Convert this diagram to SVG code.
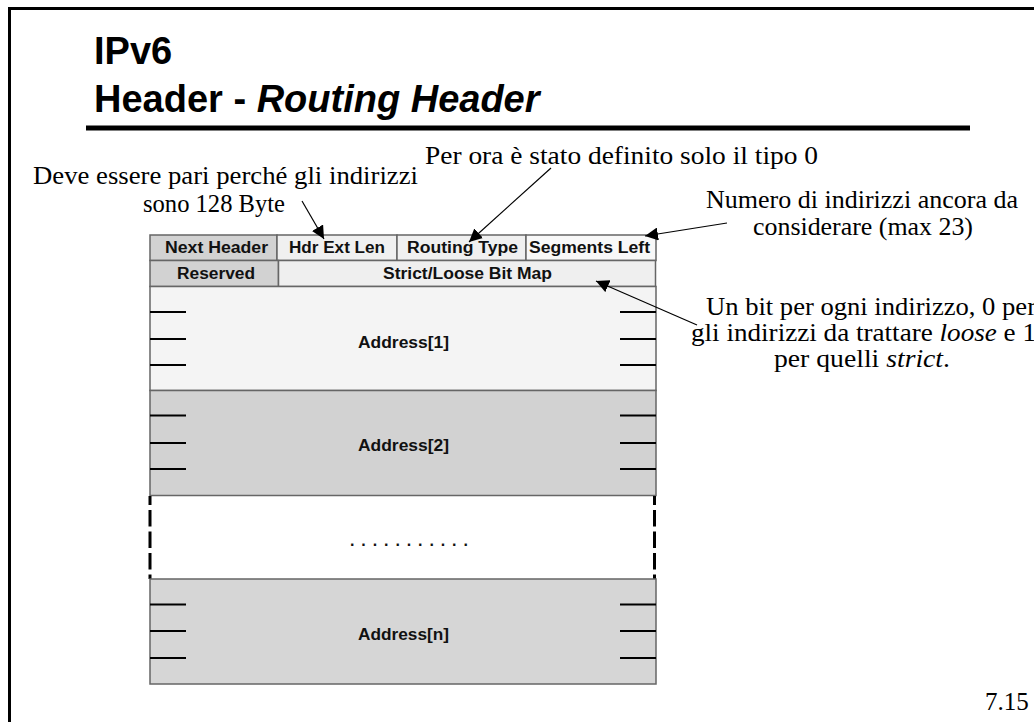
<svg xmlns="http://www.w3.org/2000/svg" width="1034" height="722" viewBox="0 0 1034 722">
<style>
.cell{stroke:#666;stroke-width:1.5}
.lbl{font-family:"Liberation Sans",Arial,sans-serif;font-weight:bold;font-size:16px;fill:#111}
.note{font-family:"Liberation Serif","Times New Roman",serif;font-size:25px;fill:#000}
.tick{stroke:#000;stroke-width:2}
.arr{stroke:#000;stroke-width:1.2;fill:none}
.title{font-family:"Liberation Sans",Arial,sans-serif;font-weight:bold;font-size:38px;fill:#000}
</style>
<defs>
<marker id="ah" viewBox="0 0 10 10" refX="10" refY="5" markerWidth="13" markerHeight="13" markerUnits="userSpaceOnUse" orient="auto">
<path d="M0,0 L10,5 L0,10 z" fill="#000"/>
</marker>
</defs>
<rect width="1034" height="722" fill="#fff"/>
<g id="frame">
<path d="M9.5,722 V8.5 H1034" fill="none" stroke="#000" stroke-width="3"/>
<rect x="86" y="125.5" width="884" height="5" fill="#000"/>
</g>
<g id="title">
<text class="title" x="94" y="64">IPv6</text>
<text class="title" x="94" y="112">Header - <tspan font-style="italic">Routing Header</tspan></text>
</g>
<g id="row1">
<rect class="cell" x="150" y="235" width="127" height="25.5" fill="#d2d2d2"/>
<rect class="cell" x="277" y="235" width="120" height="25.5" fill="#f0f0f0"/>
<rect class="cell" x="397" y="235" width="129" height="25.5" fill="#f0f0f0"/>
<rect class="cell" x="526" y="235" width="130" height="25.5" fill="#f8f8f8"/>
<text class="lbl" x="165" y="253" textLength="103" lengthAdjust="spacingAndGlyphs">Next Header</text>
<text class="lbl" x="289" y="253" textLength="96" lengthAdjust="spacingAndGlyphs">Hdr Ext Len</text>
<text class="lbl" x="407" y="253" textLength="111" lengthAdjust="spacingAndGlyphs">Routing Type</text>
<text class="lbl" x="529" y="253" textLength="121" lengthAdjust="spacingAndGlyphs">Segments Left</text>
</g>
<g id="row2">
<rect class="cell" x="150" y="260.5" width="128.5" height="26" fill="#d2d2d2"/>
<rect class="cell" x="278.5" y="260.5" width="377" height="26" fill="#efefef"/>
<text class="lbl" x="177" y="279" textLength="78" lengthAdjust="spacingAndGlyphs">Reserved</text>
<text class="lbl" x="383" y="279" textLength="169" lengthAdjust="spacingAndGlyphs">Strict/Loose Bit Map</text>
</g>
<g id="address1">
<rect class="cell" x="150" y="286.5" width="506" height="104" fill="#f4f4f4"/>
<path class="tick" d="M150,312 H186 M150,339 H186 M150,365 H186 M620,312 H656 M620,339 H656 M620,365 H656"/>
<text class="lbl" x="358" y="348" textLength="91" lengthAdjust="spacingAndGlyphs">Address[1]</text>
</g>
<g id="address2">
<rect class="cell" x="150" y="390.5" width="506" height="105" fill="#d2d2d2"/>
<path class="tick" d="M150,415.5 H186 M150,443 H186 M150,469 H186 M620,415.5 H656 M620,443 H656 M620,469 H656"/>
<text class="lbl" x="358" y="451" textLength="91" lengthAdjust="spacingAndGlyphs">Address[2]</text>
</g>
<g id="ellipsis">
<path d="M150,496 V579 M654.5,496 V579" stroke="#000" stroke-width="3" stroke-dasharray="16.5 5" stroke-dashoffset="7.5" fill="none"/>
<text class="lbl" x="350" y="546" letter-spacing="6.9">...........</text>
</g>
<g id="addressn">
<rect class="cell" x="150" y="579" width="506" height="105" fill="#d6d6d6"/>
<path class="tick" d="M150,604.5 H186 M150,631 H186 M150,658 H186 M620,604.5 H656 M620,631 H656 M620,658 H656"/>
<text class="lbl" x="358" y="640" textLength="91" lengthAdjust="spacingAndGlyphs">Address[n]</text>
</g>
<g id="notes">
<text class="note" x="33" y="184" textLength="385" lengthAdjust="spacingAndGlyphs">Deve essere pari perché gli indirizzi</text>
<text class="note" x="143" y="212" textLength="142" lengthAdjust="spacingAndGlyphs">sono 128 Byte</text>
<text class="note" x="425" y="164" textLength="393" lengthAdjust="spacingAndGlyphs">Per ora è stato definito solo il tipo 0</text>
<text class="note" x="706" y="208" textLength="312" lengthAdjust="spacingAndGlyphs">Numero di indirizzi ancora da</text>
<text class="note" x="753" y="235" textLength="220" lengthAdjust="spacingAndGlyphs">considerare (max 23)</text>
<text class="note" x="706" y="315" textLength="330" lengthAdjust="spacingAndGlyphs">Un bit per ogni indirizzo, 0 per</text>
<text class="note" x="691" y="341" textLength="345" lengthAdjust="spacingAndGlyphs">gli indirizzi da trattare <tspan font-style="italic">loose</tspan> e 1</text>
<text class="note" x="774" y="367" textLength="176" lengthAdjust="spacingAndGlyphs">per quelli <tspan font-style="italic">strict</tspan>.</text>
<text class="note" x="985" y="710">7.15</text>
</g>
<g id="connectors">
<line class="arr" x1="302" y1="201" x2="324" y2="239" marker-end="url(#ah)"/>
<line class="arr" x1="551" y1="168" x2="469" y2="242" marker-end="url(#ah)"/>
<line class="arr" x1="727" y1="223" x2="645" y2="236" marker-end="url(#ah)"/>
<line class="arr" x1="697" y1="325" x2="596" y2="281" marker-end="url(#ah)"/>
</g>
</svg>
